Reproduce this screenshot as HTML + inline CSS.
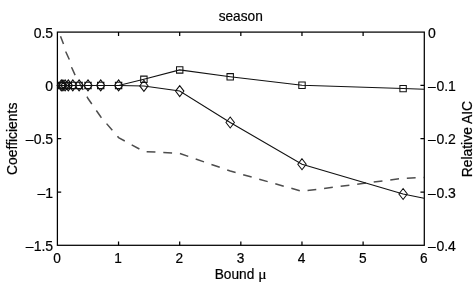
<!DOCTYPE html>
<html>
<head>
<meta charset="utf-8">
<title>season</title>
<style>
html,body{margin:0;padding:0;background:#fff;}
body{width:474px;height:286px;overflow:hidden;}
svg{display:block;will-change:transform;}
text{font-family:"Liberation Sans",sans-serif;font-size:14px;fill:#000;stroke:#000;stroke-width:0.2px;}
.mu{font-family:"Liberation Serif",serif;}
</style>
</head>
<body>
<svg width="474" height="286" viewBox="0 0 474 286">
<rect x="0" y="0" width="474" height="286" fill="#fff"/>
<g stroke="#000" stroke-width="1.25" fill="none">
<rect x="57.4" y="32.1" width="366.9" height="213.2"/>
<path d="M118.54 245.30v-3.8M118.54 32.10v3.8M179.68 245.30v-3.8M179.68 32.10v3.8M240.83 245.30v-3.8M240.83 32.10v3.8M301.97 245.30v-3.8M301.97 32.10v3.8M363.11 245.30v-3.8M363.11 32.10v3.8M57.40 85.40h3.8M424.25 85.40h-3.8M57.40 138.70h3.8M424.25 138.70h-3.8M57.40 192.00h3.8M424.25 192.00h-3.8"/>
</g>
<polyline fill="none" stroke="#4d4d4d" stroke-width="1.5" stroke-dasharray="8.8 7.88" stroke-dashoffset="0.45" points="60.5,36.2 63.4,43.8 65.9,52.0 69.3,59.4 71.8,67.8 75.1,75.1 79.1,82.4 88.0,98.5 100.7,116.8 118.6,137.6 143.9,151.5 179.7,153.4 230.3,171.0 301.9,191.3 403.1,178.3 424.0,177.5"/>
<g fill="none" stroke="#111" stroke-width="1.05">
<polyline points="61.3,85.4 62.9,85.4 65.1,85.4 68.3,85.4 72.8,85.4 79.1,85.4 88.0,85.4 100.7,85.4 118.6,85.4 143.9,79.3 179.7,69.9 230.2,76.8 302.0,85.2 403.1,88.6 424.0,89.3"/>
<polyline points="61.3,85.4 62.9,85.4 65.1,85.4 68.3,85.4 72.8,85.4 79.1,85.4 88.0,85.4 100.7,85.4 118.6,85.4 143.9,85.9 179.7,91.1 230.2,122.5 302.0,164.2 403.1,194.0 424.0,198.2"/>
<path d="M58.1 82.2h6.4v6.4h-6.4zM59.7 82.2h6.4v6.4h-6.4zM61.9 82.2h6.4v6.4h-6.4zM65.1 82.2h6.4v6.4h-6.4zM69.6 82.2h6.4v6.4h-6.4zM75.9 82.2h6.4v6.4h-6.4zM84.8 82.2h6.4v6.4h-6.4zM97.5 82.2h6.4v6.4h-6.4zM115.4 82.2h6.4v6.4h-6.4zM140.7 76.1h6.4v6.4h-6.4zM176.5 66.7h6.4v6.4h-6.4zM227.0 73.6h6.4v6.4h-6.4zM298.8 82.0h6.4v6.4h-6.4zM399.9 85.4h6.4v6.4h-6.4zM61.3 79.9l4.2 5.5l-4.2 5.5l-4.2 -5.5zM62.9 79.9l4.2 5.5l-4.2 5.5l-4.2 -5.5zM65.1 79.9l4.2 5.5l-4.2 5.5l-4.2 -5.5zM68.3 79.9l4.2 5.5l-4.2 5.5l-4.2 -5.5zM72.8 79.9l4.2 5.5l-4.2 5.5l-4.2 -5.5zM79.1 79.9l4.2 5.5l-4.2 5.5l-4.2 -5.5zM88.0 79.9l4.2 5.5l-4.2 5.5l-4.2 -5.5zM100.7 79.9l4.2 5.5l-4.2 5.5l-4.2 -5.5zM118.6 79.9l4.2 5.5l-4.2 5.5l-4.2 -5.5zM143.9 80.4l4.2 5.5l-4.2 5.5l-4.2 -5.5zM179.7 85.6l4.2 5.5l-4.2 5.5l-4.2 -5.5zM230.2 117.0l4.2 5.5l-4.2 5.5l-4.2 -5.5zM302.0 158.7l4.2 5.5l-4.2 5.5l-4.2 -5.5zM403.1 188.5l4.2 5.5l-4.2 5.5l-4.2 -5.5z"/>
</g>
<text transform="translate(240.70,21.00) scale(0.978,1)" text-anchor="middle">season</text>
<text transform="translate(214.70,278.80) scale(0.978,1)" text-anchor="start">Bound</text>
<text transform="translate(258.20,278.80) scale(1.000,1)" text-anchor="start" class="mu" style="font-size:15.5px">μ</text>
<text transform="translate(17.00,138.80) rotate(-90) scale(0.992,1)" text-anchor="middle">Coefficients</text>
<text transform="translate(471.80,139.10) rotate(-90) scale(0.994,1)" text-anchor="middle">Relative AIC</text>
<text transform="translate(53.10,37.70) scale(1.000,1)" text-anchor="end">0.5</text>
<text transform="translate(53.10,91.00) scale(1.000,1)" text-anchor="end">0</text>
<text transform="translate(53.10,144.30) scale(1.000,1)" text-anchor="end">–0.5</text>
<text transform="translate(53.10,197.60) scale(1.000,1)" text-anchor="end">–1</text>
<text transform="translate(53.10,250.90) scale(1.000,1)" text-anchor="end">–1.5</text>
<text transform="translate(427.90,37.70) scale(1.000,1)" text-anchor="start">0</text>
<text transform="translate(427.90,91.00) scale(1.000,1)" text-anchor="start">–<tspan dx="0.7">0.1</tspan></text>
<text transform="translate(427.90,144.30) scale(1.000,1)" text-anchor="start">–<tspan dx="0.7">0.2</tspan></text>
<text transform="translate(427.90,197.60) scale(1.000,1)" text-anchor="start">–<tspan dx="0.7">0.3</tspan></text>
<text transform="translate(427.90,250.90) scale(1.000,1)" text-anchor="start">–<tspan dx="0.7">0.4</tspan></text>
<text transform="translate(57.00,262.60) scale(0.978,1)" text-anchor="middle">0</text>
<text transform="translate(118.14,262.60) scale(0.978,1)" text-anchor="middle">1</text>
<text transform="translate(179.28,262.60) scale(0.978,1)" text-anchor="middle">2</text>
<text transform="translate(240.43,262.60) scale(0.978,1)" text-anchor="middle">3</text>
<text transform="translate(301.57,262.60) scale(0.978,1)" text-anchor="middle">4</text>
<text transform="translate(362.71,262.60) scale(0.978,1)" text-anchor="middle">5</text>
<text transform="translate(423.85,262.60) scale(0.978,1)" text-anchor="middle">6</text>
</svg>
</body>
</html>
